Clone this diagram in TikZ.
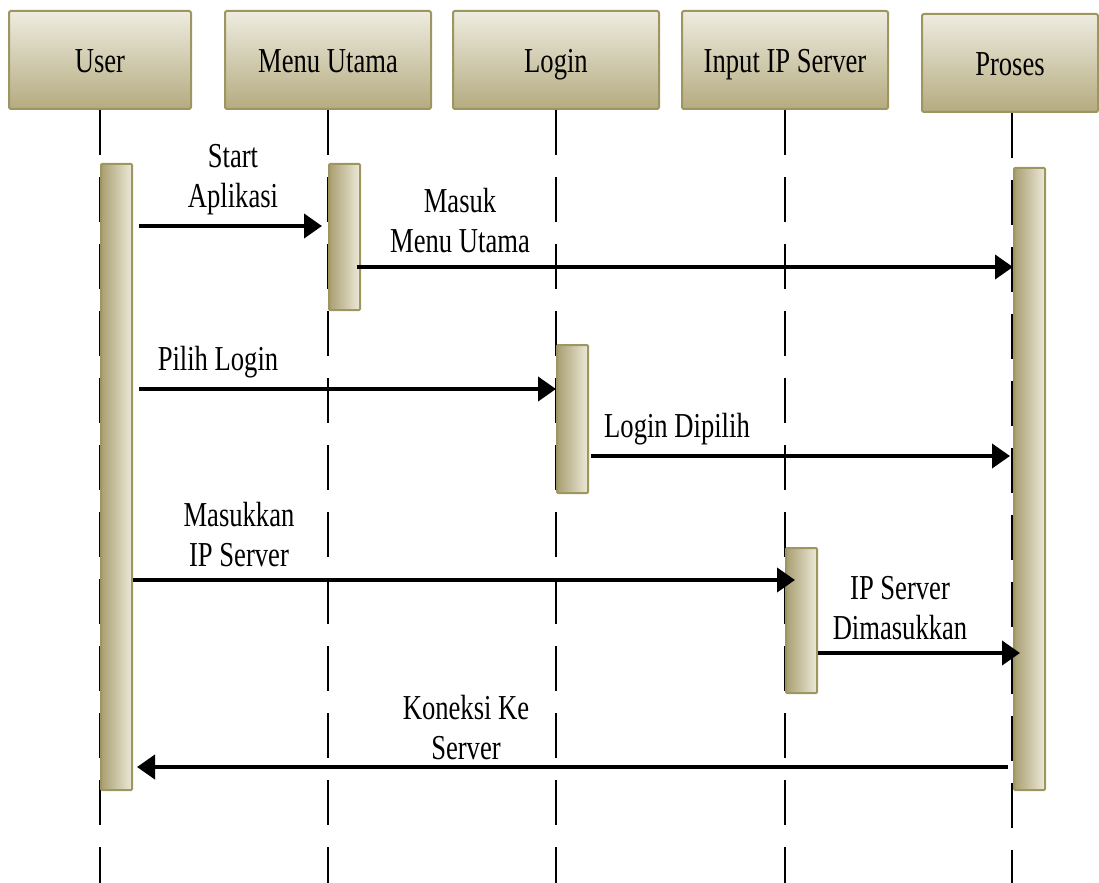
\documentclass[tikz,border=0pt]{standalone}
\usepackage{fontspec}
\setmainfont{Liberation Serif}[FakeStretch=0.76]
\usepackage{tikz}
\usetikzlibrary{arrows.meta,positioning,calc}

\definecolor{olivetop}{HTML}{EEECE0}
\definecolor{olivebot}{HTML}{B5AB80}
\definecolor{oliveline}{HTML}{9E9661}
\definecolor{barlight}{HTML}{ECE9D8}
\definecolor{bardark}{HTML}{A99F72}

\tikzset{
    head/.style={draw=oliveline, line width=1pt, rounded corners=1pt,
        top color=olivetop, bottom color=olivebot,
        minimum height=49pt, inner sep=0pt, text height=13pt, text depth=0pt,
        font=\fontsize{17.5}{20}\selectfont},
    actbar/.style={draw=oliveline, line width=1pt, rounded corners=0.5pt,
        left color=bardark, right color=barlight,
        minimum width=15.5pt, inner sep=0pt, anchor=north west},
    lifeline/.style={line width=1.4pt, dash pattern=on 22.5pt off 11pt},
    msg/.style={line width=2pt, -{Triangle[length=9pt,width=12pt]}},
    msglabel/.style={align=center, inner sep=0pt, font=\fontsize{17.5}{20}\selectfont}
}

\begin{document}
\begin{tikzpicture}[x=0.5pt,y=-0.5pt]
    \useasboundingbox (0,0) rectangle (1099,883);

    % Objects
    \node[head, minimum width=91pt]  (user)   at (100,60)  {User};
    \node[head, minimum width=103pt] (menu)   at (328,60)  {Menu Utama};
    \node[head, minimum width=103pt] (login)  at (556,60)  {Login};
    \node[head, minimum width=103pt] (input)  at (785,60)  {Input IP Server};
    \node[head, minimum width=88pt]  (proses) at (1010,63) {Proses};

    % Lifelines
    \foreach \obj in {user,menu,login,input} {
        \draw[lifeline] (\obj.south) -- (\obj.south |- 0,883);
    }
    \draw[lifeline] (proses.south -| 1012,0) -- (1012,883);

    % Activation bars
    \node[actbar, minimum height=313pt] (userBar)   at (100,163)  {};
    \node[actbar, minimum height=73pt]  (menuBar)   at (328,163)  {};
    \node[actbar, minimum height=74pt]  (loginBar)  at (556,344)  {};
    \node[actbar, minimum height=72.5pt] (inputBar) at (785,547)  {};
    \node[actbar, minimum height=311pt] (prosesBar) at (1013,167) {};

    % Messages
    \draw[msg, shorten <=3pt, shorten >=3pt] (userBar.east |- 0,226) -- (menuBar.west |- 0,226);
    \draw[msg, shorten <=-2pt] (menuBar.east |- 0,267) -- (prosesBar.west |- 0,267);
    \draw[msg, shorten <=3pt] (userBar.east |- 0,389) -- (loginBar.west |- 0,389);
    \draw[msg, shorten <=1pt, shorten >=1.5pt] (loginBar.east |- 0,456) -- (prosesBar.west |- 0,456);
    \draw[msg, shorten >=-5pt] (userBar.east |- 0,580) -- (inputBar.west |- 0,580);
    \draw[msg, shorten >=-3.5pt] (inputBar.east |- 0,653) -- (prosesBar.west |- 0,653);
    \draw[msg, shorten <=2.5pt, shorten >=2pt] (prosesBar.west |- 0,767) -- (userBar.east |- 0,767);

    % Message labels
    \node[msglabel] (lStart)   at (233,180) {Start\\Aplikasi};
    \node[msglabel] (lMasuk)   at (460,221) {Masuk\\Menu Utama};
    \node[msglabel] (lPilih)   at (218,362) {Pilih Login};
    \node[msglabel] (lDipilih) at (677,429) {Login Dipilih};
    \node[msglabel] (lIP)      at (239,535) {Masukkan\\IP Server};
    \node[msglabel] (lIPdone)  at (900,608) {IP Server\\Dimasukkan};
    \node[msglabel] (lKoneksi) at (466,728) {Koneksi Ke\\Server};
\end{tikzpicture}
\end{document}
